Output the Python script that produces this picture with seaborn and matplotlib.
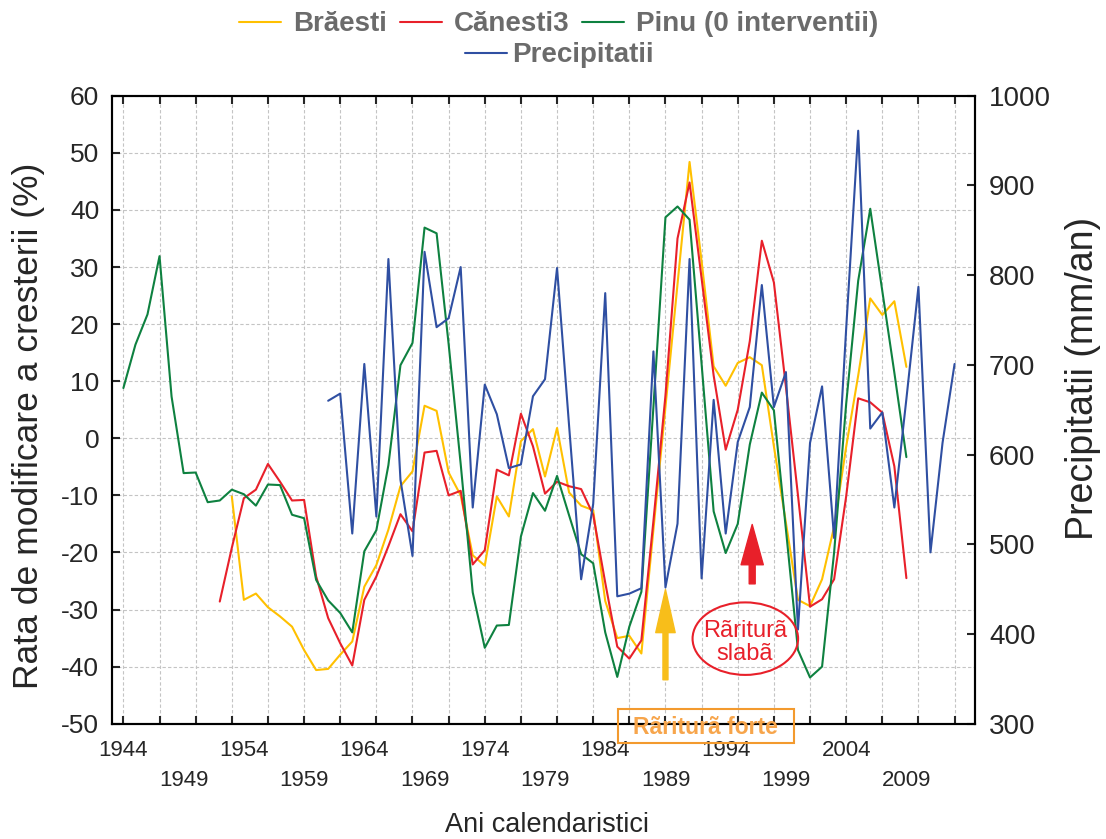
import matplotlib
matplotlib.use("Agg")
import matplotlib.pyplot as plt
from matplotlib.patches import Ellipse, FancyArrowPatch, Rectangle
from matplotlib.lines import Line2D
import pandas as pd
import seaborn as sns

# values
years_braesti = list(range(1953, 2010))
braesti = [-10.2, -28.3, -27.2, -29.6, -31.2, -33.0, -37.1, -40.6, -40.4, -37.9,
           -35.6, -26.0, -22.2, -16.0, -8.4, -5.8, 5.7, 4.8, -6.0, -10.0,
           -20.5, -22.3, -10.2, -13.7, -0.5, 1.6, -6.7, 1.8, -9.5, -11.8,
           -12.6, -28.5, -35.0, -34.6, -37.7, -16.0, 5.5, 27.0, 48.4, 31.0,
           12.6, 9.2, 13.2, 14.2, 12.8, -1.4, -14.8, -28.3, -29.4, -24.7,
           -15.5, -1.5, 11.0, 24.5, 21.6, 24.0, 12.5]

years_canesti = list(range(1952, 2010))
canesti = [-28.6, -19.2, -10.5, -9.0, -4.5, -7.6, -10.9, -10.8, -24.2, -31.5,
           -35.9, -39.8, -28.3, -24.2, -18.9, -13.3, -16.3, -2.5, -2.2, -10.0,
           -9.2, -22.1, -19.6, -5.5, -6.5, 4.3, -1.4, -9.7, -7.6, -8.4,
           -8.9, -13.4, -25.3, -36.5, -38.6, -35.4, -14.5, 7.5, 35.0, 44.8,
           28.0, 11.0, -2.0, 5.0, 17.0, 34.6, 27.3, 9.0, -10.0, -29.5,
           -28.2, -24.7, -10.2, 7.0, 6.3, 4.5, -4.9, -24.5]

years_pinu = list(range(1944, 2010))
pinu = [8.8, 16.4, 21.7, 31.9, 7.3, -6.1, -6.0, -11.2, -10.9, -9.0,
        -9.8, -11.8, -8.1, -8.2, -13.4, -14.0, -24.8, -28.4, -30.6, -34.0,
        -19.8, -16.1, -4.7, 12.8, 16.7, 36.9, 35.9, 16.5, -4.5, -27.0,
        -36.7, -32.8, -32.7, -17.2, -9.6, -12.7, -6.6, -13.5, -20.3, -21.9,
        -34.0, -41.8, -33.0, -26.9, 5.5, 38.7, 40.6, 38.3, 13.0, -12.8,
        -20.1, -15.0, -1.1, 8.0, 4.9, -16.0, -37.1, -41.9, -40.0, -20.0,
        6.0, 27.6, 40.2, 25.8, 11.5, -3.3]

years_prec = list(range(1961, 2014))
prec = [660, 668, 512, 701, 531, 818, 572, 487, 826, 742,
        752, 809, 541, 678, 645, 585, 589, 665, 684, 808,
        632, 461, 545, 780, 442, 445, 451, 715, 452, 523,
        818, 462, 661, 512, 614, 653, 789, 653, 692, 405,
        613, 676, 507, 740, 961, 629, 647, 541, 662, 787,
        491, 613, 701]

names = ["Brăesti", "Cănesti3", "Pinu (0 interventii)"]
prec_name = "Precipitatii"
colors = {"Brăesti": "#FFC000", "Cănesti3": "#E8202A",
          "Pinu (0 interventii)": "#0E8140", "Precipitatii": "#2F4FA2"}

label_years = list(range(1944, 2010, 5))

df_growth = pd.concat([
    pd.DataFrame({"An": years_braesti, "Rata": braesti, "Serie": names[0]}),
    pd.DataFrame({"An": years_canesti, "Rata": canesti, "Serie": names[1]}),
    pd.DataFrame({"An": years_pinu, "Rata": pinu, "Serie": names[2]}),
], ignore_index=True)
df_prec = pd.DataFrame({"An": years_prec, "Prec": prec})

sns.set_style("ticks")
plt.rcParams["font.family"] = ["Liberation Sans", "DejaVu Sans"]
plt.rcParams["axes.unicode_minus"] = False

fig = plt.figure(figsize=(11.06, 8.39), dpi=100)
ax = fig.add_axes([0.101, 0.1374, 0.7806, 0.7485])

sns.lineplot(data=df_growth, x="An", y="Rata", hue="Serie", hue_order=names,
             palette=colors, linewidth=1.5, legend=False, errorbar=None, ax=ax)

ax2 = ax.twinx()
sns.lineplot(data=df_prec, x="An", y="Prec", color=colors[prec_name],
             linewidth=1.5, errorbar=None, ax=ax2)

# axes limits / ticks
ax.set_xlim(1943.03, 2014.7)
ax.set_ylim(-50, 60)
ax2.set_ylim(300, 1000)
ax.set_yticks(range(-50, 61, 10))
ax2.set_yticks(range(300, 1001, 100))
ax.xaxis.remove_overlapping_locs = False
ax.set_xticks(range(1944, 2015, 3))
ax.tick_params(axis="x", which="major", labelbottom=False, top=True,
               direction="in", length=6, width=1.5)
ax.set_xticks(label_years, minor=True)
ax.set_xticklabels([str(y) if i % 2 == 0 else "\n" + str(y)
                    for i, y in enumerate(label_years)], minor=True)
ax.tick_params(axis="x", which="minor", length=0, pad=12, labelsize=16)
for t in ax.get_xticklabels(minor=True):
    t.set_linespacing(1.55)
ax.tick_params(axis="y", direction="in", length=6, width=1.5, labelsize=19,
               pad=9, right=False)
ax2.tick_params(axis="y", direction="in", length=6, width=1.5, labelsize=20,
                pad=10)

for a in (ax, ax2):
    for s in a.spines.values():
        s.set_linewidth(1.5)
        s.set_color("black")

ax.grid(True, which="major", linestyle=(0, (3, 2)), color="#c4c4c4",
        linewidth=0.8)
ax2.grid(False)

ax.set_xlabel("Ani calendaristici", fontsize=19.5)
ax.xaxis.set_label_coords(0.504, -0.14)
ax.set_ylabel("Rata de modificare a cresterii (%)", fontsize=25.5)
ax.yaxis.set_label_coords(-0.077, 0.474)
ax2.set_ylabel("Precipitatii (mm/an)", fontsize=27)
ax2.yaxis.set_label_coords(1.104, 0.55)

# annotations
yellow_arrow = FancyArrowPatch((1989, -42.3), (1989, -26.5),
                               arrowstyle="simple,head_length=31,head_width=14,tail_width=3.6",
                               mutation_scale=1, color="#F8BE1A",
                               shrinkA=0, shrinkB=0, transform=ax.transData, zorder=5)
ax2.add_patch(yellow_arrow)
red_arrow = FancyArrowPatch((1996.2, -25.5), (1996.2, -15.1),
                            arrowstyle="simple,head_length=29,head_width=16,tail_width=4.3",
                            mutation_scale=1, color="#E8202A",
                            shrinkA=0, shrinkB=0, transform=ax.transData, zorder=5)
ax2.add_patch(red_arrow)

ax2.add_patch(Ellipse((1995.63, -35.1), 8.76, 12.7, fill=False,
                      edgecolor="#E8202A", linewidth=1.5,
                      transform=ax.transData, zorder=5))
ax2.text(1995.6, -35.7, "Rãriturã\nslabã", transform=ax.transData,
         color="#E8202A", fontsize=17, ha="center", va="center",
         linespacing=1.05, zorder=6)

ax2.add_patch(Rectangle((1985.05, -53.4), 14.6, 6.0, fill=False,
                        edgecolor="#F39A2E", linewidth=1.5,
                        transform=ax.transData, clip_on=False, zorder=6))
ax2.text(1992.35, -50.7, "Rãriturã forte", transform=ax.transData,
         color="#F7A54B", fontsize=16.5, fontweight="bold", ha="center",
         va="center", clip_on=False, zorder=7)

# legend (two rows)
h1 = [Line2D([], [], color=colors[n], linewidth=1.5) for n in names]
leg1 = fig.legend(h1, names, loc="center", bbox_to_anchor=(0.5054, 0.971),
                  ncol=3, frameon=False, handlelength=1.5, handletextpad=0.45,
                  columnspacing=0.45, prop={"size": 20, "weight": "bold"})
for t in leg1.get_texts():
    t.set_color("#6b6b6b")
h2 = [Line2D([], [], color=colors[prec_name], linewidth=1.5)]
leg2 = fig.legend(h2, [prec_name], loc="center", bbox_to_anchor=(0.5059, 0.934),
                  frameon=False, handlelength=1.5, handletextpad=0.2,
                  prop={"size": 20, "weight": "bold"})
for t in leg2.get_texts():
    t.set_color("#6b6b6b")

fig.savefig("out.png", dpi=100)
